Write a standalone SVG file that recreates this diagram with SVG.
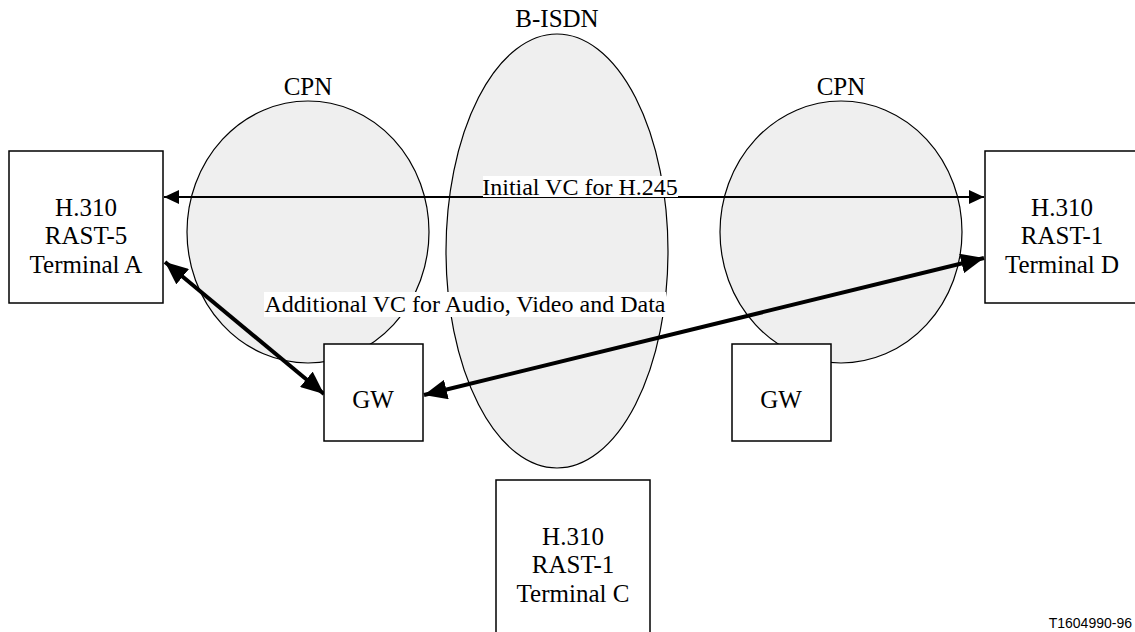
<svg xmlns="http://www.w3.org/2000/svg" width="1135" height="632" viewBox="0 0 1135 632">
<style>
.t{font-family:"Liberation Serif","Times New Roman",serif;font-size:25px;fill:#000;text-anchor:middle}
.s{font-size:24px}
.net{fill:#efefef;stroke:#000;stroke-width:1.2}
.box{fill:#fff;stroke:#000;stroke-width:1.5}
.thin{stroke:#000;stroke-width:2;fill:none}
.thick{stroke:#000;stroke-width:4;fill:none}
</style>
<defs>
<marker id="ah" markerUnits="userSpaceOnUse" markerWidth="16" markerHeight="14" refX="15" refY="7" orient="auto-start-reverse" viewBox="0 0 16 14">
<path d="M0,0 L15,7 L0,14 Z" fill="#000"/>
</marker>
<marker id="ahb" markerUnits="userSpaceOnUse" markerWidth="24" markerHeight="20" refX="23" refY="10" orient="auto-start-reverse" viewBox="0 0 24 20">
<path d="M0,0 L23,10 L0,20 Z" fill="#000"/>
</marker>
</defs>
<g id="cpn-left">
<ellipse class="net" cx="308" cy="232" rx="121" ry="131"/>
<text class="t" x="308" y="95">CPN</text>
</g>
<g id="b-isdn">
<ellipse class="net" cx="557" cy="251" rx="111" ry="217"/>
<text class="t" x="557" y="27">B-ISDN</text>
</g>
<g id="cpn-right">
<ellipse class="net" cx="841" cy="232" rx="121" ry="131"/>
<text class="t" x="841" y="95">CPN</text>
</g>
<g id="connectors">
<line class="thin" x1="164" y1="197" x2="984" y2="197" marker-start="url(#ah)" marker-end="url(#ah)"/>
<line class="thick" x1="165" y1="262" x2="324" y2="394" marker-start="url(#ahb)" marker-end="url(#ahb)"/>
<line class="thick" x1="424" y1="395" x2="984" y2="258" marker-start="url(#ahb)" marker-end="url(#ahb)"/>
<rect x="483" y="176" width="195" height="21" fill="#fff"/>
<text class="t s" x="580" y="195">Initial VC for H.245</text>
<rect x="264" y="292" width="402" height="25" fill="#fff"/>
<text class="t s" x="465" y="312">Additional VC for Audio, Video and Data</text>
</g>
<g id="terminal-a">
<rect class="box" x="9" y="151" width="154" height="152"/>
<text class="t" x="86" y="216">H.310</text>
<text class="t" x="86" y="244">RAST-5</text>
<text class="t" x="86" y="273">Terminal A</text>
</g>
<g id="terminal-d">
<rect class="box" x="985" y="151" width="160" height="152"/>
<text class="t" x="1062" y="216">H.310</text>
<text class="t" x="1062" y="244">RAST-1</text>
<text class="t" x="1062" y="273">Terminal D</text>
</g>
<g id="gw-left">
<rect class="box" x="324" y="344" width="99" height="97"/>
<text class="t" x="373" y="408">GW</text>
</g>
<g id="gw-right">
<rect class="box" x="732" y="344" width="99" height="97"/>
<text class="t" x="781" y="408">GW</text>
</g>
<g id="terminal-c">
<rect class="box" x="496" y="480" width="154" height="160"/>
<text class="t" x="573" y="545">H.310</text>
<text class="t" x="573" y="573">RAST-1</text>
<text class="t" x="573" y="602">Terminal C</text>
</g>
<text x="1132" y="628" font-family="Liberation Sans, Arial, sans-serif" font-size="14" fill="#000" text-anchor="end">T1604990-96</text>
</svg>
